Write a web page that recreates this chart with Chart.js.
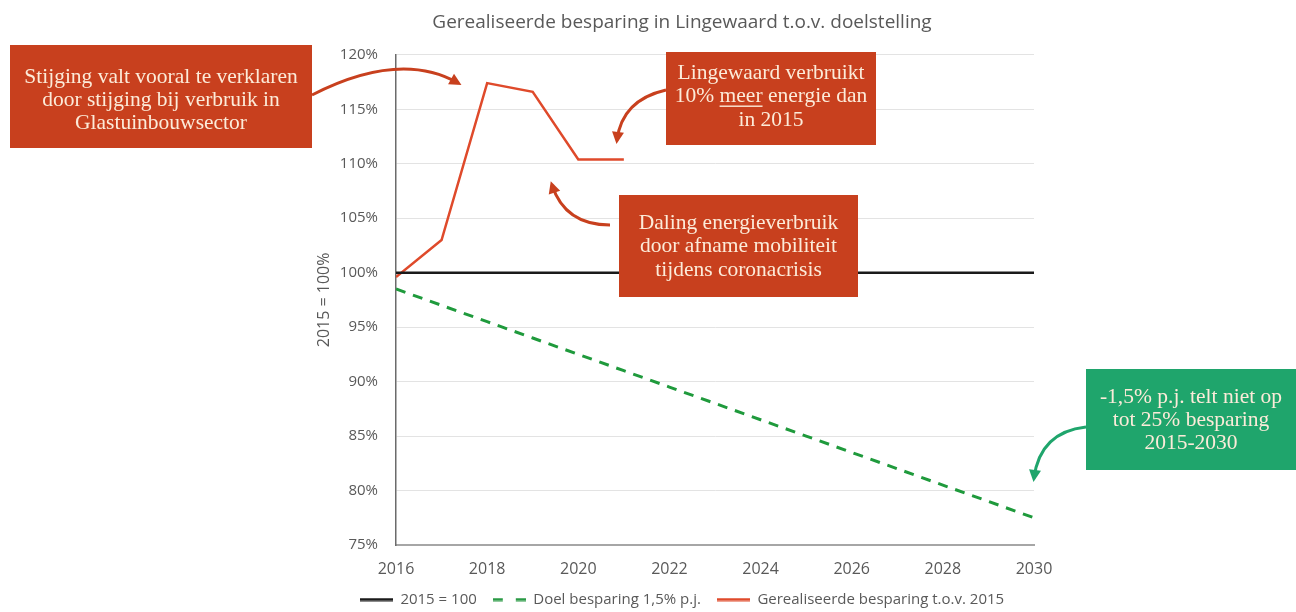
<!DOCTYPE html>
<html lang="nl">
<head>
<meta charset="UTF-8">
<title>Gerealiseerde besparing in Lingewaard</title>
<script src="https://cdn.jsdelivr.net/npm/chart.js"></script>
<style>
    html, body { margin: 0; padding: 0; background: #fff; }
    #wrap { width: 1296px; height: 612px; }
</style>
</head>
<body>
<div id="wrap"><canvas id="besparingChart"></canvas></div>
<script>
// jaren en reeksen (index 2015 = 100%)
const years = [2016, 2017, 2018, 2019, 2020, 2021, 2022, 2023, 2024, 2025, 2026, 2027, 2028, 2029, 2030];
const basis = [100, 100, 100, 100, 100, 100, 100, 100, 100, 100, 100, 100, 100, 100, 100];
const doel = [98.5, 97.0, 95.5, 94.0, 92.5, 91.0, 89.5, 88.0, 86.5, 85.0, 83.5, 82.0, 80.5, 79.0, 77.5];
const gerealiseerdJaren = [2016, 2017, 2018, 2019, 2020, 2021];
const gerealiseerd = [99.6, 103.0, 117.4, 116.6, 110.4, 110.4];

const seriesLabels = ['2015 = 100', 'Doel besparing 1,5% p.j.', 'Gerealiseerde besparing t.o.v. 2015'];
const yTicks = [75, 80, 85, 90, 95, 100, 105, 110, 115, 120];

const grey = '#595959';
const boxRed = '#c8401e';
const boxGreen = '#1fa56c';
const textCream = '#fcebd9';
const sans = '"Open Sans", sans-serif';

function points(xs, ys) {
    return xs.map((x, i) => ({ x: x, y: ys[i] }));
}

// klein lijnstukje als legendasymbool (ook gestreept)
function lineSwatch(color, dash, width) {
    const c = document.createElement('canvas');
    c.width = 33;
    c.height = 4;
    const g = c.getContext('2d');
    g.strokeStyle = color;
    g.lineWidth = width;
    g.setLineDash(dash);
    g.beginPath();
    g.moveTo(0, 2);
    g.lineTo(33, 2);
    g.stroke();
    return c;
}

// tekstvakken met pijlen
function drawBox(ctx, b) {
    ctx.fillStyle = b.color;
    ctx.fillRect(b.x, b.y, b.w, b.h);
    ctx.fillStyle = textCream;
    ctx.font = b.font;
    ctx.textBaseline = 'middle';
    ctx.textAlign = 'left';
    const cx = b.x + b.w / 2;
    b.lines.forEach((line, i) => {
        const y = b.y + b.top + i * b.lh;
        const parts = Array.isArray(line) ? line : [{ t: line }];
        const total = parts.reduce((s, p) => s + ctx.measureText(p.t).width, 0);
        let x = cx - total / 2;
        parts.forEach(p => {
            const w = ctx.measureText(p.t).width;
            ctx.fillText(p.t, x, y);
            if (p.u) {
                ctx.fillRect(x, y + 9, w, 1.4);
            }
            x += w;
        });
    });
}

function drawArrow(ctx, a) {
    ctx.strokeStyle = a.color;
    ctx.fillStyle = a.color;
    ctx.lineWidth = 3;
    ctx.beginPath();
    ctx.moveTo(a.from[0], a.from[1]);
    ctx.quadraticCurveTo(a.ctrl[0], a.ctrl[1], a.to[0], a.to[1]);
    ctx.stroke();
    const ang = Math.atan2(a.to[1] - a.ctrl[1], a.to[0] - a.ctrl[0]);
    const len = 12, half = 6;
    const tx = a.to[0] + Math.cos(ang) * 4, ty = a.to[1] + Math.sin(ang) * 4;
    ctx.beginPath();
    ctx.moveTo(tx, ty);
    ctx.lineTo(tx - len * Math.cos(ang) + half * Math.sin(ang), ty - len * Math.sin(ang) - half * Math.cos(ang));
    ctx.lineTo(tx - len * Math.cos(ang) - half * Math.sin(ang), ty - len * Math.sin(ang) + half * Math.cos(ang));
    ctx.closePath();
    ctx.fill();
}

const annotations = {
    id: 'annotations',
    afterDraw(chart) {
        const ctx = chart.ctx;
        const serif = '21.5px "Liberation Serif", serif';
        ctx.save();
        drawArrow(ctx, { color: boxRed, from: [312, 95], ctrl: [400, 50], to: [458, 83] });
        drawArrow(ctx, { color: boxRed, from: [666, 90], ctrl: [622, 100], to: [617, 140] });
        drawArrow(ctx, { color: boxRed, from: [610, 225], ctrl: [565, 225], to: [552, 185] });
        drawArrow(ctx, { color: boxGreen, from: [1086, 427], ctrl: [1040, 432], to: [1034, 478] });

        drawBox(ctx, { x: 10, y: 45, w: 302, h: 103, color: boxRed, font: serif, top: 32, lh: 23,
            lines: ['Stijging valt vooral te verklaren', 'door stijging bij verbruik in', 'Glastuinbouwsector'] });
        drawBox(ctx, { x: 666, y: 52, w: 210, h: 93, color: boxRed, font: serif, top: 21, lh: 23.5,
            lines: ['Lingewaard verbruikt', [{ t: '10% ' }, { t: 'meer', u: true }, { t: ' energie dan' }], 'in 2015'] });
        drawBox(ctx, { x: 619, y: 195, w: 239, h: 102, color: boxRed, font: serif, top: 28, lh: 23.5,
            lines: ['Daling energieverbruik', 'door afname mobiliteit', 'tijdens coronacrisis'] });
        drawBox(ctx, { x: 1086, y: 369, w: 210, h: 101, color: boxGreen, font: serif, top: 28, lh: 23,
            lines: ['-1,5% p.j. telt niet op', 'tot 25% besparing', '2015-2030'] });
        ctx.restore();
    }
};

const ctx = document.getElementById('besparingChart').getContext('2d');
const chart = new Chart(ctx, {
    type: 'line',
    data: {
        datasets: [
            {
                label: seriesLabels[0],
                data: points(years, basis),
                borderColor: '#1a1a1a',
                backgroundColor: '#1a1a1a',
                borderWidth: 2.5,
                pointRadius: 0,
                pointStyle: lineSwatch('#1a1a1a', [], 3)
            },
            {
                label: seriesLabels[1],
                data: points(years, doel),
                borderColor: '#1f9a3c',
                backgroundColor: '#1f9a3c',
                borderWidth: 3,
                borderDash: [10, 8],
                pointRadius: 0,
                pointStyle: lineSwatch('#2a9a45', [10, 13], 3)
            },
            {
                label: seriesLabels[2],
                data: points(gerealiseerdJaren, gerealiseerd),
                borderColor: '#df4a2b',
                backgroundColor: '#df4a2b',
                borderWidth: 2.5,
                pointRadius: 0,
                pointStyle: lineSwatch('#df4a2b', [], 3)
            }
        ]
    },
    options: {
        responsive: true,
        maintainAspectRatio: false,
        animation: false,
        layout: { padding: { left: 330, right: 262, top: 0, bottom: -5 } },
        plugins: {
            title: {
                display: true,
                text: 'Gerealiseerde besparing in Lingewaard t.o.v. doelstelling',
                color: grey,
                font: { family: sans, size: 19, weight: 'normal' },
                padding: { top: 11, bottom: 21 }
            },
            legend: {
                position: 'bottom',
                align: 'center',
                labels: {
                    usePointStyle: true,
                    pointStyleWidth: 33,
                    color: grey,
                    font: { family: sans, size: 15 },
                    padding: 16
                }
            },
            tooltip: { enabled: false }
        },
        scales: {
            x: {
                type: 'linear',
                min: 2016,
                max: 2030,
                grid: { display: false, drawTicks: false },
                border: { display: true, color: '#a6a6a6', width: 2 },
                ticks: {
                    stepSize: 2,
                    padding: 15,
                    color: grey,
                    font: { family: sans, size: 16 },
                    callback: v => String(v)
                },
                afterFit(scale) { scale.height = 31; }
            },
            y: {
                min: 75,
                max: 120,
                grid: { color: '#e3e3e3', drawTicks: false },
                border: { display: true, color: '#6b6b6b', width: 1.5 },
                afterBuildTicks(scale) { scale.ticks = yTicks.map(v => ({ value: v })); },
                ticks: {
                    padding: 18,
                    color: grey,
                    font: { family: sans, size: 15 },
                    callback: v => v + '%'
                },
                title: {
                    display: true,
                    text: '2015 = 100%',
                    color: grey,
                    font: { family: sans, size: 16 },
                    padding: { top: -15, bottom: 0 }
                },
                afterFit(scale) { scale.width = 66; }
            }
        }
    },
    plugins: [annotations]
});
</script>
</body>
</html>
